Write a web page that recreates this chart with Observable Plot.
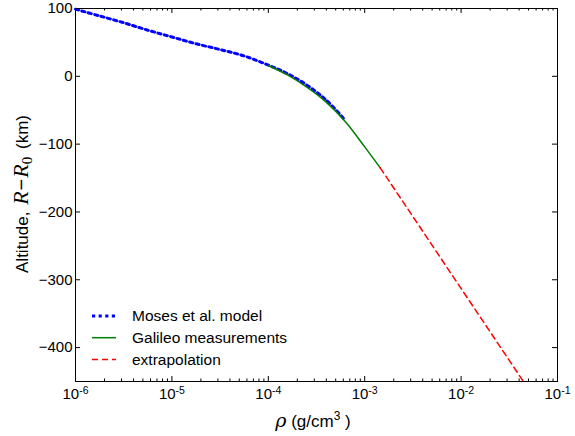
<!DOCTYPE html>
<html><head><meta charset="utf-8">
<script src="https://cdn.jsdelivr.net/npm/d3@7"></script>
<script src="https://cdn.jsdelivr.net/npm/@observablehq/plot@0.6"></script>
<style>body{margin:0;background:#fff;} svg{display:block;}</style>
</head><body><div id="chart"></div>
<script>
// Moses et al. model (density g/cm^3, altitude km)
const mosesRho = [1e-6, 1.78e-6, 3.16e-6, 5.62e-6, 1e-5, 1.78e-5, 3.16e-5, 5.62e-5, 1e-4, 1.58e-4, 2.51e-4, 3.98e-4, 6.03e-4];
const mosesAlt = [99, 89, 79, 68, 58, 48, 39.5, 30, 16.5, 4, -13, -35, -62];
// Galileo measurements
const galileoRho = [1e-4, 1.58e-4, 2.51e-4, 3.98e-4, 6.31e-4, 1e-3, 1.45e-3];
const galileoAlt = [16, 2, -16, -38, -67, -104, -135];
// extrapolation
const extrapRho = [1.45e-3, 0.0443];
const extrapAlt = [-135, -450];

const xTicks = [1e-6, 1e-5, 1e-4, 1e-3, 1e-2, 1e-1];
const yTicks = [-400, -300, -200, -100, 0, 100];
const legendLabels = ["Moses et al. model", "Galileo measurements", "extrapolation"];
const colors = ["#0000ff", "#008000", "#ff0000"];

const minorTicks = [];
for (let e = -6; e < -1; e++) for (let m = 2; m <= 9; m++) minorTicks.push(m * Math.pow(10, e));

const moses = mosesRho.map((r, i) => ({r, a: mosesAlt[i]}));
const galileo = galileoRho.map((r, i) => ({r, a: galileoAlt[i]}));
const extrap = extrapRho.map((r, i) => ({r, a: extrapAlt[i]}));

const W = 575, H = 436, mL = 75, mR = 18, mT = 8, mB = 55;
const plotW = W - mL - mR, plotH = H - mT - mB;
const font = "'Liberation Sans', Arial, sans-serif";
const serif = "'Liberation Serif', 'DejaVu Serif', serif";
const fmt = d => "10^" + Math.round(Math.log10(d));

const chart = Plot.plot({
  width: W, height: H,
  marginLeft: mL, marginRight: mR, marginTop: mT, marginBottom: mB,
  style: {fontFamily: font, fontSize: "15px", color: "black", background: "white"},
  x: {type: "log", domain: [1e-6, 1e-1]},
  y: {domain: [-450, 100]},
  marks: [
    Plot.line(moses, {x: "r", y: "a", stroke: colors[0], strokeWidth: 3, strokeDasharray: "3.2,3.4", curve: "catmull-rom"}),
    Plot.line(galileo, {x: "r", y: "a", stroke: colors[1], strokeWidth: 1.5, curve: "catmull-rom"}),
    Plot.line(extrap, {x: "r", y: "a", stroke: colors[2], strokeWidth: 1.5, strokeDasharray: "6,4"}),
    // inward ticks
    Plot.tickX(xTicks, {x: d => d, insetTop: plotH - 5, stroke: "black"}),
    Plot.tickX(xTicks, {x: d => d, insetBottom: plotH - 5, stroke: "black"}),
    Plot.tickX(minorTicks, {x: d => d, insetTop: plotH - 2.5, stroke: "black"}),
    Plot.tickX(minorTicks, {x: d => d, insetBottom: plotH - 2.5, stroke: "black"}),
    Plot.tickY(yTicks, {y: d => d, insetRight: plotW - 5, stroke: "black"}),
    Plot.tickY(yTicks, {y: d => d, insetLeft: plotW - 5, stroke: "black"}),
    // tick labels
    Plot.axisX(xTicks, {anchor: "bottom", tickSize: 0, tickPadding: 7, tickFormat: fmt, fontSize: 15, label: null}),
    Plot.axisY(yTicks, {anchor: "left", tickSize: 0, tickPadding: 3, fontSize: 15, label: null}),
    Plot.frame({stroke: "black", strokeWidth: 1})
  ]
});
document.getElementById("chart").appendChild(chart);

const svg = d3.select(chart);
// superscript tick labels
svg.selectAll("text").each(function() {
  const t = d3.select(this);
  const s = t.text();
  if (s.startsWith("10^")) {
    const exp = s.slice(3);
    t.text("10");
    t.append("tspan").attr("dy", "-0.45em").attr("font-size", "10.5px").text(exp);
  }
});

// axis labels
svg.append("text")
  .attr("transform", "translate(28,194) rotate(-90)")
  .attr("text-anchor", "middle").attr("font-size", "17px").attr("font-family", font).attr("fill", "black")
  .call(t => {
    t.append("tspan").text("Altitude, ");
    t.append("tspan").attr("font-family", serif).attr("font-style", "italic").attr("font-size", "22px").attr("dx", 2).text("R");
    t.append("tspan").attr("font-size", "20px").attr("dx", 1).text("\u2212");
    t.append("tspan").attr("font-family", serif).attr("font-style", "italic").attr("font-size", "22px").attr("dx", 1).text("R");
    t.append("tspan").attr("font-family", serif).attr("font-size", "15px").attr("dy", 4).text("0");
    t.append("tspan").attr("dy", -4).attr("dx", 3).text(" (km)");
  });
svg.append("text")
  .attr("x", 313).attr("y", 427)
  .attr("text-anchor", "middle").attr("font-size", "17px").attr("font-family", font).attr("fill", "black")
  .call(t => {
    t.append("tspan").attr("font-family", "'DejaVu Serif', serif").attr("font-style", "italic").attr("font-size", "19px").text("\u03c1");
    t.append("tspan").text(" (g/cm");
    t.append("tspan").attr("font-size", "12px").attr("dy", -7).text("3");
    t.append("tspan").attr("dy", 7).text(" )");
  });

// legend
const dashes = ["3.2,3.4", null, "6,4"];
const widths = [3, 1.5, 1.5];
const lg = svg.append("g").attr("text-anchor", "start");
legendLabels.forEach((lab, i) => {
  const y = 316 + i * 21.7;
  lg.append("line").attr("x1", 92).attr("x2", 116).attr("y1", y).attr("y2", y)
    .attr("stroke", colors[i]).attr("stroke-width", widths[i]).attr("stroke-dasharray", dashes[i]);
  lg.append("text").attr("x", 132).attr("y", y).attr("dy", "0.35em").attr("text-anchor", "start")
    .attr("font-size", "15.5px").attr("font-family", font).attr("fill", "black").text(lab);
});
</script>
</body></html>
